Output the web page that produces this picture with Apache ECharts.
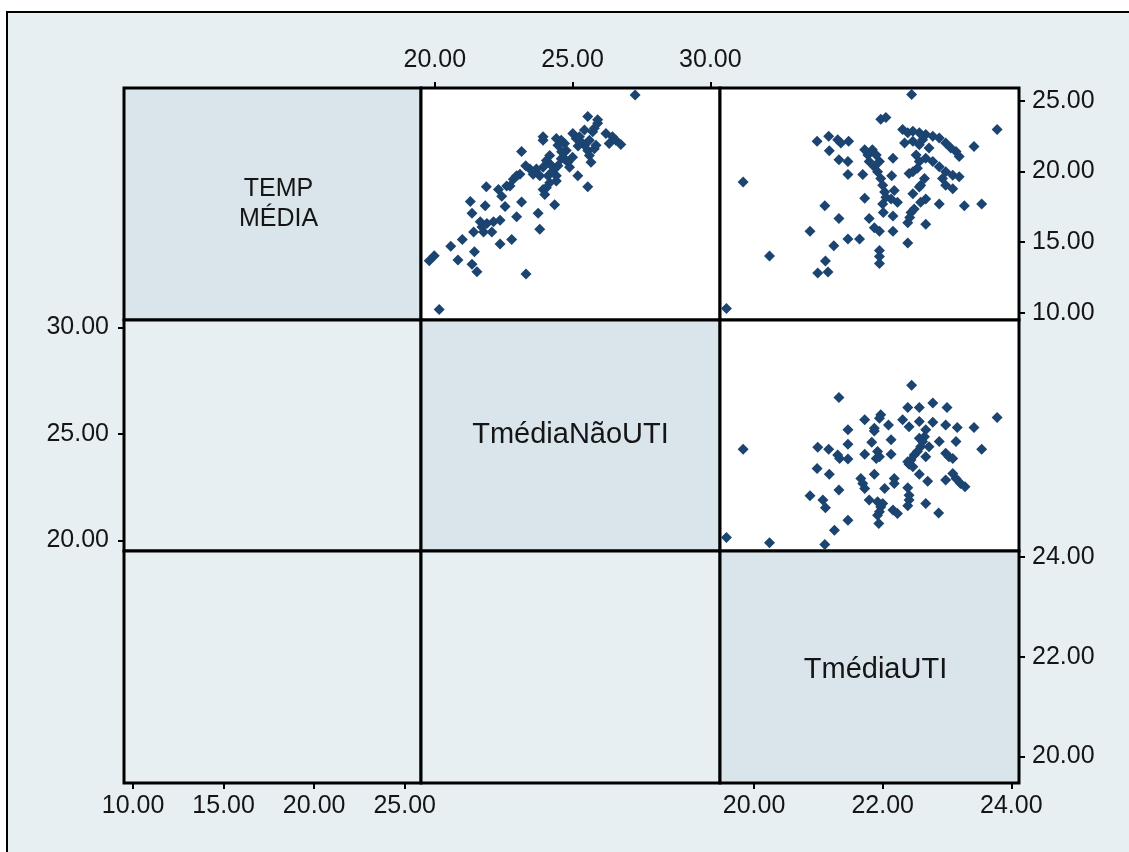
<!DOCTYPE html>
<html>
<head>
<meta charset="utf-8">
<script src="https://cdn.jsdelivr.net/npm/echarts@6/dist/echarts.min.js"></script>
<style>
html,body{margin:0;padding:0;background:#fff;}
#chart{width:1129px;height:852px;}
</style>
</head>
<body>
<div id="chart"></div>
<script>
// ---- variables ----
const varNames = ['TEMP\nMÉDIA', 'TmédiaNãoUTI', 'TmédiaUTI'];
const tempRange = [9.5, 25.9];
const naoRange = [19.5, 30.35];
const utiRange = [19.47, 24.12];
const tempTicks = [10, 15, 20, 25];
const naoTicks = [20, 25, 30];
const utiTicks = [20, 22, 24];

// ---- scatter data ----
// row 1, col 2: x = TmédiaNãoUTI, y = TEMP MÉDIA
const naoVsTemp = [
  [27.27,25.41],[20.16,10.24],[19.8,13.68],[19.98,14.04],[20.58,14.71],[20.84,13.75],[21.0,15.19],
  [21.35,13.44],[21.53,12.91],[21.44,14.33],[21.41,15.72],[21.71,16.08],[21.89,16.32],[22.07,15.72],
  [21.77,15.72],[21.65,16.44],[22.13,16.44],[22.37,16.56],[22.37,14.88],[22.79,15.19],[23.31,12.76],
  [22.97,16.8],[23.81,15.91],[23.75,17.04],[23.15,17.84],[24.35,17.64],[23.99,18.37],[23.93,18.73],
  [21.29,17.88],[21.35,17.04],[21.83,17.57],[21.87,18.92],[22.31,18.73],[22.43,18.25],[22.55,17.52],
  [22.61,18.97],[22.73,18.97],[22.85,19.45],[22.97,19.69],[23.09,19.81],[23.15,21.42],
  [23.93,22.45],[23.93,22.21],[24.41,22.33],[24.59,22.21],[24.71,21.97],[24.47,21.85],[24.77,21.49],
  [24.17,21.13],[24.05,20.77],[23.93,20.29],[23.69,20.17],[23.45,20.17],[23.57,19.81],[23.81,19.69],
  [24.11,19.69],[24.29,20.05],[24.47,20.41],[24.59,20.89],[24.71,20.89],[24.83,20.65],[24.89,20.29],
  [24.41,19.33],[24.17,19.21],[24.05,18.85],[24.41,19.69],[25.01,22.69],[25.13,22.33],[25.25,22.45],
  [25.31,22.09],[25.43,22.93],[25.43,21.85],[25.55,21.49],[25.61,21.13],[25.67,20.65],[25.79,21.61],
  [25.85,21.85],[25.61,22.21],[25.73,22.81],[25.79,23.05],[25.55,23.89],[25.91,23.65],[25.91,23.41],
  [26.21,22.69],[26.33,21.97],[26.45,22.45],[26.75,21.9],[25.19,19.69],[25.55,18.92],[26.57,22.21],
  [23.3,20.4],[24.2,20.5],[24.6,21.4],[25.0,21.0],[25.2,21.8]
];

// row 1, col 3: x = TmédiaUTI, y = TEMP MÉDIA
const utiVsTemp = [
  [22.45,25.44],[19.57,10.31],[19.83,19.26],[20.24,14.03],[21.97,23.69],[22.05,23.81],[23.78,22.97],
  [23.42,21.77],[20.98,22.13],[21.16,22.49],[21.17,21.46],[21.3,22.25],[21.35,22.01],[21.47,22.13],
  [21.32,20.82],[21.46,20.7],[21.46,19.78],[21.69,19.78],[21.1,17.58],[21.32,16.67],[20.87,15.78],
  [21.46,15.23],[21.64,15.23],[21.24,14.75],[21.11,13.67],[20.99,12.83],[21.15,12.9],[21.95,14.41],
  [21.95,13.98],[21.95,13.5],[21.79,16.67],[21.87,16.02],[21.95,15.78],[22.16,15.78],[22.39,14.94],
  [22.39,16.38],[22.44,17.1],[22.42,16.74],[22.47,18.42],[22.49,17.34],[22.67,16.26],[22.59,17.82],
  [22.67,18.06],[22.57,18.9],[22.88,17.7],[23.27,17.58],[23.54,17.7],
  [22.31,22.97],[22.39,22.73],[22.47,22.85],[22.57,22.73],[22.67,22.61],[22.78,22.49],[22.88,22.37],
  [22.98,22.01],[23.06,21.65],[23.14,21.41],[23.19,21.06],[22.34,22.01],[22.47,22.13],[22.57,21.89],
  [22.52,21.17],[22.57,20.7],[22.54,20.22],[22.47,19.98],[22.41,19.86],[22.67,20.94],[22.78,20.7],
  [22.88,20.34],[22.98,19.98],[23.09,19.74],[23.19,19.62],[22.93,19.5],[22.98,19.02],[23.09,18.78],
  [22.72,21.65],[22.62,22.25],[22.65,19.5],[22.59,19.02],
  [21.72,21.53],[21.77,21.17],[21.84,21.53],[21.9,21.17],[21.95,20.7],[21.79,20.7],[21.87,20.34],
  [21.92,19.98],[21.97,19.5],[22.0,19.02],[22.03,18.54],[22.05,18.18],[22.0,17.7],[22.01,17.1],
  [22.16,16.86],[22.16,20.94],[22.14,19.69],[22.18,18.66],[22.23,17.82],[22.13,18.06],[21.72,18.11]
];

// row 2, col 3: x = TmédiaUTI, y = TmédiaNãoUTI
const utiVsNao = [
  [22.45,27.28],[19.57,20.13],[19.83,24.28],[20.24,19.89],[21.1,19.8],[23.78,25.77],[21.32,26.71],
  [23.54,24.28],[20.99,24.37],[21.16,24.28],[21.3,24.01],[21.33,23.85],[21.46,23.82],[21.46,25.19],
  [21.46,24.51],[20.98,23.38],[21.17,23.1],[20.87,22.09],[21.07,21.89],[21.11,21.53],[21.32,22.36],
  [21.46,20.94],[21.25,20.47],[21.72,25.66],[21.87,25.27],[21.87,25.14],[21.97,25.9],[21.95,25.74],
  [22.09,25.42],[22.13,24.72],[21.83,24.61],[21.72,24.04],[21.92,24.17],[21.9,23.85],[21.95,23.93],
  [22.13,24.04],[21.87,23.1],[21.66,22.91],[21.69,22.67],[21.72,22.44],[22.03,22.44],[22.18,22.91],
  [22.18,22.67],[21.79,21.89],[21.92,21.81],[21.97,21.57],[21.95,21.34],[21.92,21.18],[22.0,21.73],
  [21.94,20.79],[22.16,21.42],[22.23,21.26],[22.39,22.47],[22.41,22.12],[22.41,21.89],[22.39,21.62],
  [22.67,21.73],[22.87,21.29],[22.57,23.1],[22.7,22.78],[22.39,26.24],[22.57,26.24],[22.78,26.45],
  [23.0,26.24],[22.31,25.66],[22.41,25.34],[22.57,25.58],[22.78,25.55],[22.98,25.42],[23.16,25.3],
  [23.42,25.3],[22.67,25.19],[22.65,24.87],[22.62,24.64],[22.59,24.4],[22.54,24.17],[22.49,24.01],
  [22.44,23.77],[22.41,23.57],[22.47,23.46],[22.39,23.69],[22.67,23.93],[22.72,24.4],[22.57,24.8],
  [22.88,24.64],[23.14,24.64],[22.98,24.09],[23.03,23.93],[23.09,23.85],[22.98,22.83],[23.09,23.14],
  [23.14,22.91],[23.21,22.67],[23.28,22.52]
];

// ---- layout ----
const colX = [124, 421, 720, 1019];
const rowY = [88, 320, 551, 783];
const panelBg = '#e8eff3';
const diagBg = '#d9e4eb';
const lowerBg = '#e8eff2';
const markColor = '#1b4470';
const textColor = '#151515';
const fontFam = '"Liberation Sans", Arial, sans-serif';

const chart = echarts.init(document.getElementById('chart'));

function fmt(v) { return v.toFixed(2); }

function hiddenAxis(gridIndex, range) {
  return {
    type: 'value', gridIndex: gridIndex, min: range ? range[0] : 0, max: range ? range[1] : 1,
    show: false, splitLine: { show: false }
  };
}
function shownAxis(gridIndex, range, ticks, position, margin) {
  return {
    type: 'value', gridIndex: gridIndex, min: range[0], max: range[1], position: position,
    splitLine: { show: false },
    axisLine: { show: false },
    axisTick: { show: true, length: 6, customValues: ticks, lineStyle: { color: '#000', width: 2 } },
    axisLabel: { show: true, customValues: ticks, formatter: fmt, margin: margin,
      color: textColor, fontSize: 25, fontFamily: fontFam }
  };
}

const grids = [], xAxes = [], yAxes = [];
for (let r = 0; r < 3; r++) {
  for (let c = 0; c < 3; c++) {
    let bg = c > r ? '#ffffff' : (c === r ? diagBg : lowerBg);
    grids.push({
      show: true, left: colX[c], top: rowY[r], width: colX[c + 1] - colX[c], height: rowY[r + 1] - rowY[r],
      backgroundColor: bg, borderColor: '#000', borderWidth: 3, containLabel: false
    });
  }
}
// x axes (grid index = r*3+c)
xAxes.push(hiddenAxis(0));
xAxes.push(shownAxis(1, naoRange, naoTicks, 'top', 15));
xAxes.push(hiddenAxis(2, utiRange));
xAxes.push(hiddenAxis(3));
xAxes.push(hiddenAxis(4));
xAxes.push(hiddenAxis(5, utiRange));
xAxes.push(shownAxis(6, tempRange, tempTicks, 'bottom', 11));
xAxes.push(hiddenAxis(7));
xAxes.push(shownAxis(8, utiRange, utiTicks, 'bottom', 11));
// y axes
yAxes.push(hiddenAxis(0));
yAxes.push(hiddenAxis(1, tempRange));
yAxes.push(shownAxis(2, tempRange, tempTicks, 'right', 13));
yAxes.push(shownAxis(3, naoRange, naoTicks, 'left', 15));
yAxes.push(hiddenAxis(4));
yAxes.push(hiddenAxis(5, naoRange));
yAxes.push(hiddenAxis(6));
yAxes.push(hiddenAxis(7));
yAxes.push(shownAxis(8, utiRange, utiTicks, 'right', 13));

function scatter(idx, data) {
  return {
    type: 'scatter', xAxisIndex: idx, yAxisIndex: idx, data: data,
    symbol: 'diamond', symbolSize: 11, itemStyle: { color: markColor, opacity: 1 },
    silent: true, clip: false
  };
}

const labelGraphics = [];
const labelSizes = [25, 29, 29];
const labelDx = [6, 0, 6];
const labelDy = [0, -1, 3];
for (let i = 0; i < 3; i++) {
  labelGraphics.push({
    type: 'text', z: 10,
    x: (colX[i] + colX[i + 1]) / 2 + labelDx[i], y: (rowY[i] + rowY[i + 1]) / 2 + labelDy[i],
    style: { text: varNames[i], fill: textColor, font: labelSizes[i] + 'px ' + fontFam,
      textAlign: 'center', textVerticalAlign: 'middle', lineHeight: 30 }
  });
}

chart.setOption({
  backgroundColor: panelBg,
  animation: false,
  grid: grids,
  xAxis: xAxes,
  yAxis: yAxes,
  series: [scatter(1, naoVsTemp), scatter(2, utiVsTemp), scatter(5, utiVsNao)],
  graphic: [
    { type: 'rect', z: 100, shape: { x: 0, y: 0, width: 1129, height: 11 }, style: { fill: '#fff' } },
    { type: 'rect', z: 100, shape: { x: 0, y: 0, width: 6, height: 852 }, style: { fill: '#fff' } },
    { type: 'line', z: 101, shape: { x1: 6, y1: 12, x2: 1129, y2: 12 }, style: { stroke: '#000', lineWidth: 2 } },
    { type: 'line', z: 101, shape: { x1: 7, y1: 11, x2: 7, y2: 852 }, style: { stroke: '#000', lineWidth: 2 } }
  ].concat(labelGraphics)
});
</script>
</body>
</html>
